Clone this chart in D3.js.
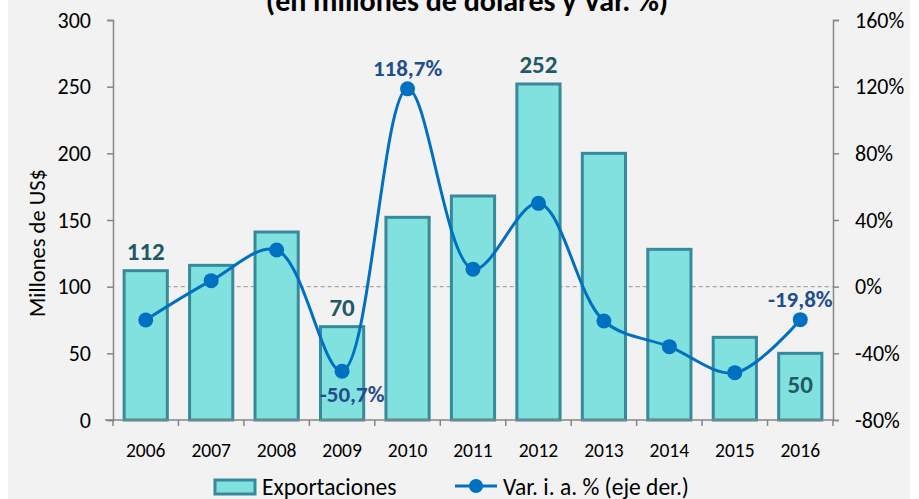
<!DOCTYPE html>
<html>
<head>
<meta charset="utf-8">
<script src="https://cdn.jsdelivr.net/npm/d3@7"></script>
<style>
  html, body { margin: 0; padding: 0; background: #ffffff; }
  svg { display: block; font-family: Carlito, Lato, "Open Sans", sans-serif; }
</style>
</head>
<body>
<svg id="chart" width="919" height="499"></svg>
<script>
// Exportaciones anuales (millones de US$) y variación interanual (%)
const years = ["2006","2007","2008","2009","2010","2011","2012","2013","2014","2015","2016"];
const exportaciones = [112, 116, 141, 70, 152, 168, 252, 200, 128, 62, 50];
const variacion = [-20, 3.6, 22, -50.7, 118.7, 10.5, 50, -20.6, -36, -51.6, -19.8];
const leftTicks = [0, 50, 100, 150, 200, 250, 300];
const rightTicks = [-80, -40, 0, 40, 80, 120, 160];
const barLabels = [{ i: 0, text: "112" }, { i: 3, text: "70" }, { i: 6, text: "252" }, { i: 10, text: "50", inside: true }];
const lineLabels = [{ i: 4, text: "118,7%", pos: "above" }, { i: 3, text: "-50,7%", pos: "below" }, { i: 10, text: "-19,8%", pos: "above" }];

const svg = d3.select("#chart");
const W = 919, H = 499;
const m = { left: 113, right: 833, top: 20, bottom: 420 };

svg.append("rect").attr("x", 8).attr("y", 0).attr("width", 902).attr("height", H).attr("fill", "#f2f2f2");

const x = d3.scaleBand().domain(years).range([m.left, m.right]).paddingInner(0.34).paddingOuter(0.17);
const xc = d => x(d) + x.bandwidth() / 2;
const yL = d3.scaleLinear().domain([0, 300]).range([m.bottom, m.top]);
const yR = d3.scaleLinear().domain([-80, 160]).range([m.bottom, m.top]);

const axisColor = "#868686";

// Title (second line)
svg.append("text").attr("x", 467).attr("y", 11).attr("text-anchor", "middle")
  .attr("font-size", 30).attr("font-weight", "bold").attr("fill", "#000")
  .text("(en millones de dólares y Var. %)");

// Zero reference line on the right axis
svg.append("line")
  .attr("x1", xc(years[0])).attr("x2", m.right)
  .attr("y1", yR(0)).attr("y2", yR(0))
  .attr("stroke", "#a6a6a6").attr("stroke-width", 1.3).attr("stroke-dasharray", "4,3");

// Bars
svg.append("g").selectAll("rect").data(exportaciones).join("rect")
  .attr("x", (d, i) => x(years[i]))
  .attr("y", d => yL(d))
  .attr("width", x.bandwidth())
  .attr("height", d => yL(0) - yL(d))
  .attr("fill", "#80e1de").attr("stroke", "#378a9c").attr("stroke-width", 3);

// Left axis
const gL = svg.append("g").attr("transform", `translate(${m.left},0)`)
  .call(d3.axisLeft(yL).tickValues(leftTicks).tickSize(6).tickPadding(16));
gL.select(".domain").attr("stroke", axisColor).attr("stroke-width", 1.5);
gL.selectAll(".tick line").attr("stroke", axisColor).attr("stroke-width", 1.5);
gL.selectAll(".tick text").attr("font-size", 22).attr("fill", "#000").attr("font-family", "Carlito, Lato, sans-serif");

// Right axis
const gR = svg.append("g").attr("transform", `translate(${m.right},0)`)
  .call(d3.axisRight(yR).tickValues(rightTicks).tickSize(6).tickPadding(16).tickFormat(d => d + "%"));
gR.select(".domain").attr("stroke", axisColor).attr("stroke-width", 1.5);
gR.selectAll(".tick line").attr("stroke", axisColor).attr("stroke-width", 1.5);
gR.selectAll(".tick text").attr("font-size", 22).attr("fill", "#000").attr("font-family", "Carlito, Lato, sans-serif");

// Bottom axis with ticks at category boundaries
const gX = svg.append("g").attr("transform", `translate(0,${m.bottom})`);
gX.append("line").attr("x1", m.left - 8).attr("x2", m.right).attr("y1", 0).attr("y2", 0)
  .attr("stroke", axisColor).attr("stroke-width", 1.5);
const bounds = d3.range(years.length + 1).map(i => m.left + i * (m.right - m.left) / years.length);
gX.selectAll("line.tk").data(bounds).join("line").attr("class", "tk")
  .attr("x1", d => d).attr("x2", d => d).attr("y1", 0).attr("y2", 6)
  .attr("stroke", axisColor).attr("stroke-width", 1.5);
gX.selectAll("text").data(years).join("text")
  .attr("x", d => xc(d)).attr("y", 37).attr("text-anchor", "middle")
  .attr("font-size", 19.5).attr("fill", "#000").text(d => d);

// Left axis title
svg.append("text").attr("transform", "translate(45,243) rotate(-90)")
  .attr("text-anchor", "middle").attr("font-size", 22.5).attr("fill", "#000")
  .text("Millones de US$");

// Variation line (smoothed)
const line = d3.line().x((d, i) => xc(years[i])).y(d => yR(d)).curve(d3.curveCatmullRom.alpha(0.5));
svg.append("path").datum(variacion).attr("d", line)
  .attr("fill", "none").attr("stroke", "#0070c0").attr("stroke-width", 3);
svg.append("g").selectAll("circle").data(variacion).join("circle")
  .attr("cx", (d, i) => xc(years[i])).attr("cy", d => yR(d)).attr("r", 7.5)
  .attr("fill", "#0070c0");

// Bar value labels
svg.append("g").selectAll("text").data(barLabels).join("text")
  .attr("x", d => xc(years[d.i]))
  .attr("y", d => d.inside ? yL(exportaciones[d.i]) + 40 : yL(exportaciones[d.i]) - 11)
  .attr("text-anchor", "middle").attr("font-size", 25).attr("font-weight", "bold")
  .attr("fill", "#215967").text(d => d.text);

// Line value labels
svg.append("g").selectAll("text").data(lineLabels).join("text")
  .attr("x", d => xc(years[d.i]) + (d.pos === "below" ? 10 : 0))
  .attr("y", d => d.pos === "below" ? yR(variacion[d.i]) + 31 : yR(variacion[d.i]) - 13)
  .attr("text-anchor", "middle").attr("font-size", 23).attr("font-weight", "bold")
  .attr("fill", "#1f4e8c").text(d => d.text);

// Legend
const lg = svg.append("g");
lg.append("rect").attr("x", 215).attr("y", 480).attr("width", 40).attr("height", 14)
  .attr("fill", "#80e1de").attr("stroke", "#378a9c").attr("stroke-width", 3);
lg.append("text").attr("x", 262).attr("y", 495).attr("font-size", 23.5).attr("fill", "#000").text("Exportaciones");
lg.append("line").attr("x1", 455).attr("x2", 497).attr("y1", 486).attr("y2", 486)
  .attr("stroke", "#0070c0").attr("stroke-width", 3);
lg.append("circle").attr("cx", 476).attr("cy", 486).attr("r", 7).attr("fill", "#0070c0");
lg.append("text").attr("x", 503).attr("y", 495).attr("font-size", 23.5).attr("fill", "#000").text("Var. i. a. % (eje der.)");
</script>
</body>
</html>
